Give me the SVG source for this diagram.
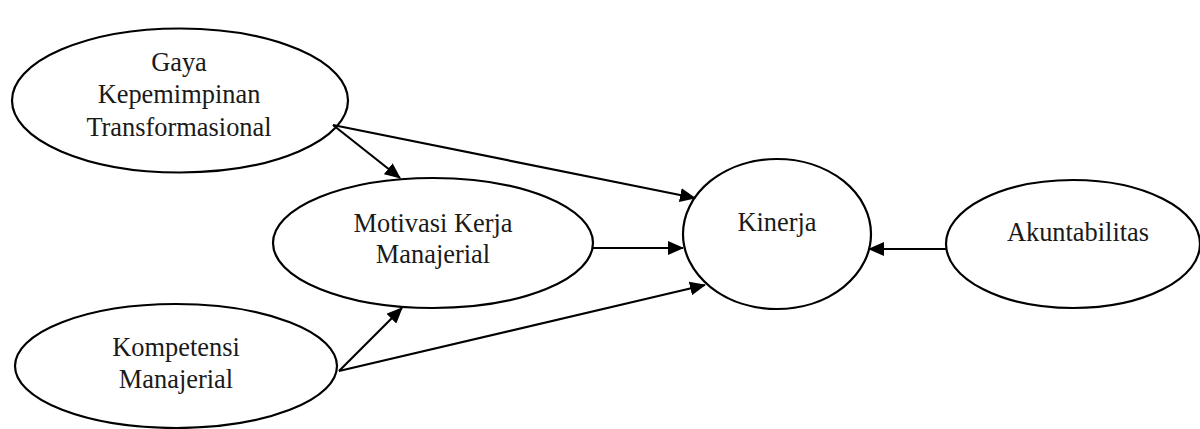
<svg xmlns="http://www.w3.org/2000/svg" width="1200" height="429" viewBox="0 0 1200 429">
  <style>
    .node ellipse { fill: #ffffff; stroke: #000000; stroke-width: 2.2; }
    .node text { font-family: "Liberation Serif", "Times New Roman", serif; font-size: 26.4px; fill: #1a1a1a; text-anchor: middle; }
    .edge { fill: none; stroke: #000000; stroke-width: 2.2; marker-end: url(#arrow); }
  </style>
  <defs>
    <marker id="arrow" markerUnits="userSpaceOnUse" markerWidth="16" markerHeight="14" refX="15" refY="7" orient="auto">
      <path d="M0,0 L16,7 L0,14 Z" fill="#000000"/>
    </marker>
  </defs>
  <rect width="1200" height="429" fill="#ffffff"/>

  <g id="node-gaya" class="node">
    <ellipse cx="180" cy="100.5" rx="168" ry="72"/>
    <text x="179" y="71">Gaya</text>
    <text x="179" y="103">Kepemimpinan</text>
    <text x="179" y="136">Transformasional</text>
  </g>

  <g id="node-motivasi" class="node">
    <ellipse cx="433" cy="243" rx="160" ry="65"/>
    <text x="433" y="232">Motivasi Kerja</text>
    <text x="433" y="263">Manajerial</text>
  </g>

  <g id="node-kompetensi" class="node">
    <ellipse cx="176" cy="366" rx="161" ry="62"/>
    <text x="176" y="356">Kompetensi</text>
    <text x="176" y="388">Manajerial</text>
  </g>

  <g id="node-kinerja" class="node">
    <ellipse cx="777" cy="234" rx="94" ry="75"/>
    <text x="777" y="231">Kinerja</text>
  </g>

  <g id="node-akuntabilitas" class="node">
    <ellipse cx="1073" cy="244" rx="127" ry="64"/>
    <text x="1078" y="241">Akuntabilitas</text>
  </g>

  <g id="connectors">
    <path class="edge" d="M333,125 L400,178"/>
    <path class="edge" d="M333,125 L695,198"/>
    <path class="edge" d="M593,248 L683,248"/>
    <path class="edge" d="M339,371 L402,308"/>
    <path class="edge" d="M339,371 L705,285"/>
    <path class="edge" d="M946,249 L869,249"/>
  </g>
</svg>
